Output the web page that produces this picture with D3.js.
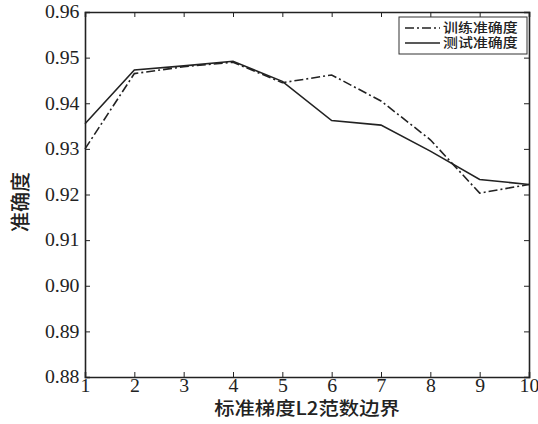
<!DOCTYPE html>
<html>
<head>
<meta charset="utf-8">
<script src="https://cdn.jsdelivr.net/npm/d3@7"></script>
<style>
  body { margin: 0; background: #fff; }
  svg text { fill: #222; }
</style>
</head>
<body>
<svg id="chart"></svg>
<script>
// data
var xValues = [1, 2, 3, 4, 5, 6, 7, 8, 9, 10];
var trainAcc = [0.930, 0.9465, 0.948, 0.949, 0.9445, 0.9462, 0.9405, 0.932, 0.9203, 0.9222];
var testAcc = [0.9355, 0.9473, 0.9482, 0.9492, 0.9448, 0.9362, 0.9352, 0.9295, 0.9233, 0.9222];
var yTicks = [0.88, 0.89, 0.90, 0.91, 0.92, 0.93, 0.94, 0.95, 0.96];
var seriesNames = ["训练准确度", "测试准确度"];
var xTitle = "标准梯度L2范数边界";
var yTitle = "准确度";

var width = 538, height = 424;
var margin = {top: 12, right: 9, bottom: 47, left: 85};
var svg = d3.select("#chart").attr("width", width).attr("height", height);

var iw = width - margin.left - margin.right;
var ih = height - margin.top - margin.bottom;

var xScale = d3.scaleLinear().domain([1, 10]).range([0, iw]);
var yScale = d3.scaleLinear().domain([0.88, 0.96]).range([ih, 0]);

var g = svg.append("g").attr("transform", `translate(${margin.left}, ${margin.top})`);

var serif = "'Liberation Serif', 'Times New Roman', serif";
var cjk = "'Noto Sans CJK SC', sans-serif";

// axes, matlab style: ticks inward on all four sides
var tickLen = 5;
var xAxis = g.append("g").attr("transform", `translate(0, ${ih})`)
  .call(d3.axisBottom(xScale).tickValues(xValues).tickSize(-tickLen).tickPadding(2).tickFormat(d3.format("d")));
var xAxisTop = g.append("g")
  .call(d3.axisTop(xScale).tickValues(xValues).tickSize(-tickLen).tickFormat(""));
var yAxis = g.append("g")
  .call(d3.axisLeft(yScale).tickValues(yTicks).tickSize(-tickLen).tickPadding(5).tickFormat(d3.format(".2f")));
var yAxisRight = g.append("g").attr("transform", `translate(${iw}, 0)`)
  .call(d3.axisRight(yScale).tickValues(yTicks).tickSize(-tickLen).tickFormat(""));

[xAxis, xAxisTop, yAxis, yAxisRight].forEach(a => {
  a.attr("font-family", null).attr("font-size", null);
  a.select(".domain").attr("stroke", "#222").attr("stroke-width", 1.6);
  a.selectAll(".tick line").attr("stroke", "#222").attr("stroke-width", 1);
  a.selectAll("text").style("font-family", serif).style("font-size", "18px").attr("fill", "#333")
    .attr("transform", "scale(1.1,1)");
});

// lines
var lineGen = d3.line().x((d, i) => xScale(xValues[i])).y(d => yScale(d));

g.append("path").datum(trainAcc).attr("d", lineGen)
  .attr("fill", "none").attr("stroke", "#222").attr("stroke-width", 1.6)
  .attr("stroke-dasharray", "9,3,2,3");
g.append("path").datum(testAcc).attr("d", lineGen)
  .attr("fill", "none").attr("stroke", "#222").attr("stroke-width", 1.6);

// legend
var lg = svg.append("g").attr("transform", `translate(399, 17)`);
lg.append("rect").attr("width", 128).attr("height", 37)
  .attr("fill", "#fff").attr("stroke", "#333").attr("stroke-width", 1);
var dashes = ["9,3,2,3", null];
seriesNames.forEach((name, i) => {
  var ly = 11 + i * 15;
  lg.append("line").attr("x1", 6).attr("x2", 41).attr("y1", ly).attr("y2", ly)
    .attr("stroke", "#222").attr("stroke-width", 1.5)
    .attr("stroke-dasharray", dashes[i]);
  lg.append("text").attr("transform", `translate(44, ${ly}) scale(1.15,1)`).attr("dominant-baseline", "middle")
    .style("font-family", cjk).style("font-size", "13px").style("font-weight", 500).text(name);
});

// axis titles
svg.append("text").attr("transform", `translate(${margin.left + iw / 2}, 410) scale(1.1,1)`)
  .attr("text-anchor", "middle").attr("dominant-baseline", "middle")
  .style("font-family", cjk).style("font-size", "18.5px").style("font-weight", 500).text(xTitle);
svg.append("text").attr("transform", `translate(23, 202) rotate(-90)`)
  .attr("text-anchor", "middle").attr("dominant-baseline", "middle")
  .style("font-family", cjk).style("font-size", "20px").style("font-weight", 500).text(yTitle);
</script>
</body>
</html>
